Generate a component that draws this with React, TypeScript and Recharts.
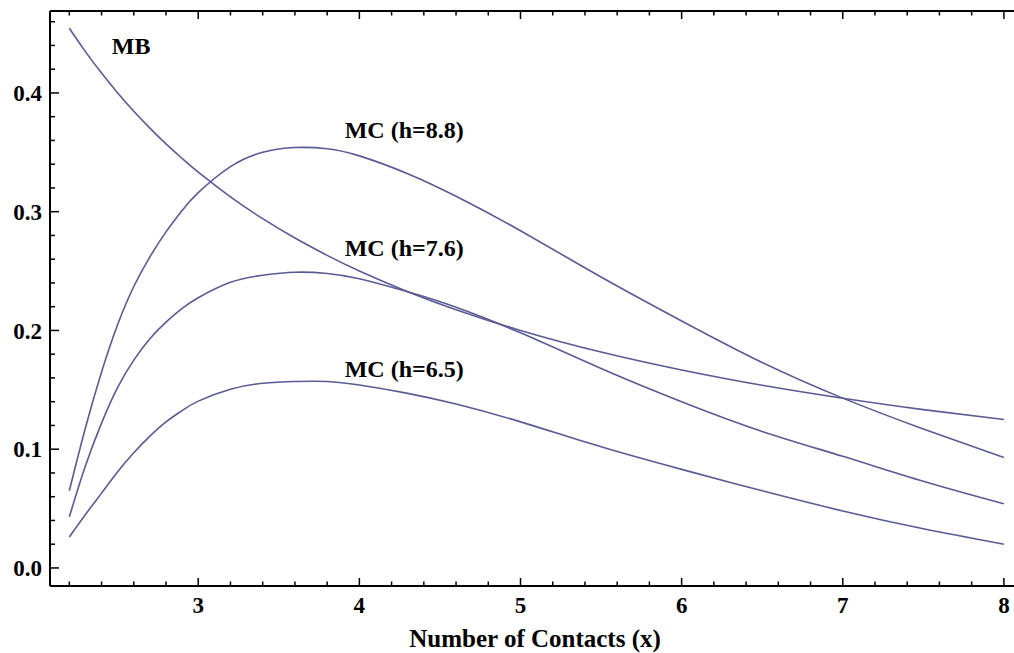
import React from 'react';
import { LineChart, Line, XAxis, YAxis, ReferenceDot } from 'recharts';

// x values (number of contacts)
const contacts = [2.2, 2.3, 2.4, 2.5, 2.6, 2.7, 2.8, 2.9, 3.0, 3.2, 3.4, 3.6, 3.8, 4.0, 4.3, 4.6, 5.0, 5.5, 6.0, 6.5, 7.0, 7.5, 8.0];

const mb = [0.4545, 0.4348, 0.4167, 0.4, 0.3846, 0.3704, 0.3571, 0.3448, 0.3333, 0.3125, 0.2941, 0.2778, 0.2632, 0.25, 0.2326, 0.2174, 0.2, 0.1818, 0.1667, 0.1538, 0.1429, 0.1333, 0.125];
const mc88 = [0.065, 0.118, 0.165, 0.205, 0.237, 0.262, 0.283, 0.301, 0.316, 0.338, 0.35, 0.354, 0.353, 0.347, 0.332, 0.313, 0.284, 0.245, 0.208, 0.173, 0.143, 0.117, 0.093];
const mc76 = [0.043, 0.086, 0.122, 0.152, 0.175, 0.193, 0.207, 0.2185, 0.2275, 0.2405, 0.2465, 0.249, 0.248, 0.2435, 0.2325, 0.2195, 0.198, 0.168, 0.14, 0.115, 0.094, 0.073, 0.054];
const mc65 = [0.026, 0.045, 0.063, 0.081, 0.097, 0.111, 0.123, 0.1325, 0.1405, 0.1505, 0.1555, 0.157, 0.157, 0.154, 0.147, 0.138, 0.123, 0.102, 0.083, 0.065, 0.048, 0.033, 0.02];

const xTicks = [2.2, 2.4, 2.6, 2.8, 3, 3.2, 3.4, 3.6, 3.8, 4, 4.2, 4.4, 4.6, 4.8, 5, 5.2, 5.4, 5.6, 5.8, 6, 6.2, 6.4, 6.6, 6.8, 7, 7.2, 7.4, 7.6, 7.8, 8];
const yTicks = [0, 0.02, 0.04, 0.06, 0.08, 0.1, 0.12, 0.14, 0.16, 0.18, 0.2, 0.22, 0.24, 0.26, 0.28, 0.3, 0.32, 0.34, 0.36, 0.38, 0.4, 0.42, 0.44, 0.46];
const xLabels = [3, 4, 5, 6, 7, 8];
const yLabels = [0, 0.1, 0.2, 0.3, 0.4];

const data = contacts.map((x, i) => ({
  x,
  mb: mb[i],
  mc88: mc88[i],
  mc76: mc76[i],
  mc65: mc65[i],
}));

const font = '"Liberation Serif", "Times New Roman", serif';
const lineColor = '#5a5a96';

const isLabel = (v: number, list: number[]) => list.some((l) => Math.abs(l - v) < 1e-6);

const BottomTick = (props: any) => {
  const { x, y, payload } = props;
  const major = isLabel(payload.value, xLabels);
  return (
    <g>
      <line x1={x} x2={x} y1={y} y2={y - (major ? 8 : 4.5)} stroke="#000" strokeWidth={1.5} />
      {major && (
        <text x={x} y={y + 27} textAnchor="middle" fontFamily={font} fontWeight="bold" fontSize={23} fill="#000">
          {payload.value}
        </text>
      )}
    </g>
  );
};

const TopTick = (props: any) => {
  const { x, y, payload } = props;
  const major = isLabel(payload.value, xLabels);
  return <line x1={x} x2={x} y1={y} y2={y + (major ? 8 : 4.5)} stroke="#000" strokeWidth={1.5} />;
};

const LeftTick = (props: any) => {
  const { x, y, payload } = props;
  const major = isLabel(payload.value, yLabels);
  return (
    <g>
      <line x1={x} x2={x + (major ? 9 : 5)} y1={y} y2={y} stroke="#000" strokeWidth={1.5} />
      {major && (
        <text x={x - 8} y={y} dy="0.36em" textAnchor="end" fontFamily={font} fontWeight="bold" fontSize={23} fill="#000">
          {payload.value.toFixed(1)}
        </text>
      )}
    </g>
  );
};

const labelStyle = {
  position: 'center' as const,
  fill: '#000',
  fontFamily: font,
  fontWeight: 'bold',
  fontSize: 24,
};

const App = () => (
  <div style={{ position: 'absolute', left: 0, top: 0, width: 1014, height: 653, overflow: 'hidden', background: '#fff' }}>
    <LineChart width={1022} height={653} data={data} margin={{ top: 0, right: 2, bottom: 0, left: 0 }}>
      <XAxis
        dataKey="x"
        type="number"
        domain={[2.08, 8.1]}
        allowDataOverflow
        ticks={xTicks}
        interval={0}
        height={67}
        tickSize={0}
        tickMargin={0}
        tickLine={false}
        axisLine={{ stroke: '#000', strokeWidth: 2 }}
        tick={<BottomTick />}
        label={{ value: 'Number of Contacts (x)', position: 'insideBottom', offset: 6, fill: '#000', fontFamily: font, fontWeight: 'bold', fontSize: 25 }}
      />
      <XAxis
        xAxisId="top"
        dataKey="x"
        type="number"
        orientation="top"
        domain={[2.08, 8.1]}
        allowDataOverflow
        ticks={xTicks}
        interval={0}
        height={11}
        tickSize={0}
        tickMargin={0}
        tickLine={false}
        axisLine={{ stroke: '#000', strokeWidth: 2 }}
        tick={<TopTick />}
      />
      <YAxis
        type="number"
        domain={[-0.0152, 0.469]}
        allowDataOverflow
        ticks={yTicks}
        interval={0}
        width={50}
        tickSize={0}
        tickMargin={0}
        tickLine={false}
        axisLine={{ stroke: '#000', strokeWidth: 2 }}
        tick={<LeftTick />}
      />
      <Line type="natural" dataKey="mb" stroke={lineColor} strokeWidth={1.6} dot={false} isAnimationActive={false} />
      <Line type="natural" dataKey="mc88" stroke={lineColor} strokeWidth={1.6} dot={false} isAnimationActive={false} />
      <Line type="natural" dataKey="mc76" stroke={lineColor} strokeWidth={1.6} dot={false} isAnimationActive={false} />
      <Line type="natural" dataKey="mc65" stroke={lineColor} strokeWidth={1.6} dot={false} isAnimationActive={false} />
      <ReferenceDot x={2.584} y={0.44} r={0} fill="none" stroke="none" label={{ ...labelStyle, value: 'MB' }} />
      <ReferenceDot x={4.278} y={0.369} r={0} fill="none" stroke="none" label={{ ...labelStyle, value: 'MC (h=8.8)' }} />
      <ReferenceDot x={4.278} y={0.2695} r={0} fill="none" stroke="none" label={{ ...labelStyle, value: 'MC (h=7.6)' }} />
      <ReferenceDot x={4.278} y={0.168} r={0} fill="none" stroke="none" label={{ ...labelStyle, value: 'MC (h=6.5)' }} />
    </LineChart>
  </div>
);

export default App;
